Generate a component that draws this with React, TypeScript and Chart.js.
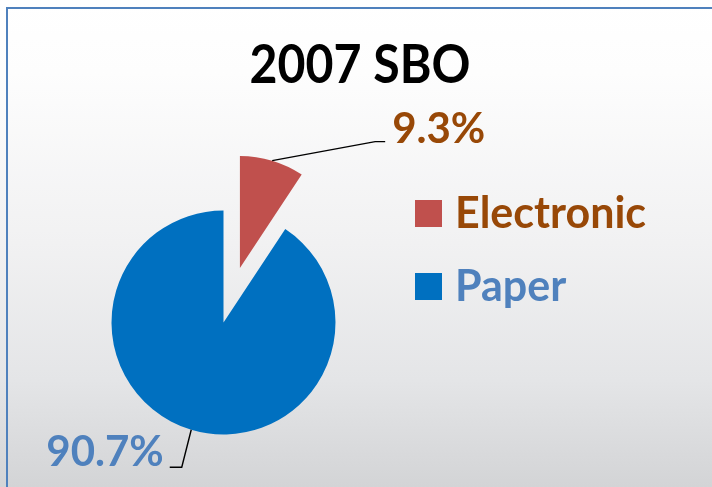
import React, { useEffect, useRef } from "react";
import { Chart, registerables } from "chart.js";

Chart.register(...registerables);

const TITLE = "2007 SBO";
const categories = ["Electronic", "Paper"];
const shares = [9.3, 90.7];
const sliceColors = ["#C0504D", "#0070C0"];
const textColors = ["#984807", "#4F81BD"];
const explodeDistance = [57, 0];

const FONT = "Lato, 'Open Sans', sans-serif";

export default function App() {
  const ref = useRef<HTMLCanvasElement | null>(null);

  useEffect(() => {
    const canvas = ref.current;
    if (!canvas) return;

    const explodePlugin = {
      id: "explodeDraw",
      beforeDatasetDraw(chart: any, args: any) {
        const ctx = chart.ctx;
        args.meta.data.forEach((arc: any, i: number) => {
          const mid = (arc.startAngle + arc.endAngle) / 2;
          const d = explodeDistance[i] || 0;
          ctx.save();
          ctx.translate(Math.cos(mid) * d, Math.sin(mid) * d);
          arc.draw(ctx);
          ctx.restore();
        });
        return false;
      },
    };

    const decorPlugin = {
      id: "decor",
      afterDraw(chart: any) {
        const ctx = chart.ctx;
        const meta = chart.getDatasetMeta(0);
        const total = shares.reduce((a, b) => a + b, 0);
        ctx.save();
        // title (slightly condensed to mimic the narrow original face)
        ctx.save();
        ctx.fillStyle = "#000000";
        ctx.font = `bold 53px ${FONT}`;
        ctx.textAlign = "center";
        ctx.textBaseline = "alphabetic";
        ctx.translate(360, 83);
        ctx.scale(0.91, 1);
        ctx.fillText(TITLE, 0, 0);
        ctx.restore();

        // data labels with leader lines
        const leaders = [
          { ex: 103, ey: -19, run: 10, gap: 7, dy: 1.5 },
          { ex: -9.5, ey: 37.5, run: -12, gap: 6, dy: -1 },
        ];
        meta.data.forEach((arc: any, i: number) => {
          const mid = (arc.startAngle + arc.endAngle) / 2;
          const d = explodeDistance[i] || 0;
          const cx = arc.x + Math.cos(mid) * d;
          const cy = arc.y + Math.sin(mid) * d;
          const ax = cx + Math.cos(mid) * arc.outerRadius;
          const ay = cy + Math.sin(mid) * arc.outerRadius;
          const L = leaders[i];
          const bx = ax + L.ex;
          const by = ay + L.ey;
          const endX = bx + L.run;
          ctx.strokeStyle = "#000000";
          ctx.lineWidth = 1.4;
          ctx.beginPath();
          ctx.moveTo(ax, ay);
          ctx.lineTo(bx, by);
          ctx.lineTo(endX, by);
          ctx.stroke();
          const pct = ((shares[i] / total) * 100).toFixed(1) + "%";
          ctx.font = `bold 42px ${FONT}`;
          ctx.fillStyle = textColors[i];
          if (L.run > 0) {
            ctx.textAlign = "left";
            ctx.fillText(pct, endX + L.gap, by + L.dy);
          } else {
            ctx.textAlign = "right";
            ctx.fillText(pct, endX - L.gap, by + L.dy);
          }
        });

        // legend
        const lx = 415;
        const ly = 200;
        const rowH = 73;
        const box = 27;
        categories.forEach((name, i) => {
          const y = ly + i * rowH;
          ctx.fillStyle = sliceColors[i];
          ctx.fillRect(lx, y, box, box);
          ctx.font = `bold 43px ${FONT}`;
          ctx.fillStyle = textColors[i];
          ctx.textAlign = "left";
          ctx.fillText(name, lx + 40, y + 28);
        });
        ctx.restore();
      },
    };

    const chart = new Chart(canvas, {
      type: "pie",
      data: {
        labels: categories,
        datasets: [
          {
            data: shares,
            backgroundColor: sliceColors,
            borderWidth: 0,
            clip: false as any,
          },
        ],
      },
      options: {
        responsive: false,
        animation: false,
        radius: 112,
        layout: { padding: { left: 0, right: 265, top: 158, bottom: 0 } },
        plugins: {
          legend: { display: false },
          title: { display: false },
          tooltip: { enabled: false },
        },
      } as any,
      plugins: [explodePlugin, decorPlugin],
    });
    return () => chart.destroy();
  }, []);

  return (
    <div
      style={{
        position: "fixed",
        left: 0,
        top: 0,
        width: 712,
        height: 487,
        overflow: "hidden",
        background:
          "linear-gradient(to bottom, #FFFFFF 0%, #FDFDFD 15%, #F1F1F2 50%, #E4E5E7 78%, #D3D4D6 100%)",
      }}
    >
      <div
        style={{
          position: "absolute",
          left: 6,
          top: 7,
          width: 760,
          height: 540,
          borderTop: "2px solid #4F81BD",
          borderLeft: "2px solid #4F81BD",
          boxSizing: "border-box",
        }}
      />
      <canvas
        ref={ref}
        width={712}
        height={487}
        style={{ position: "absolute", left: 0, top: 0 }}
      />
    </div>
  );
}
